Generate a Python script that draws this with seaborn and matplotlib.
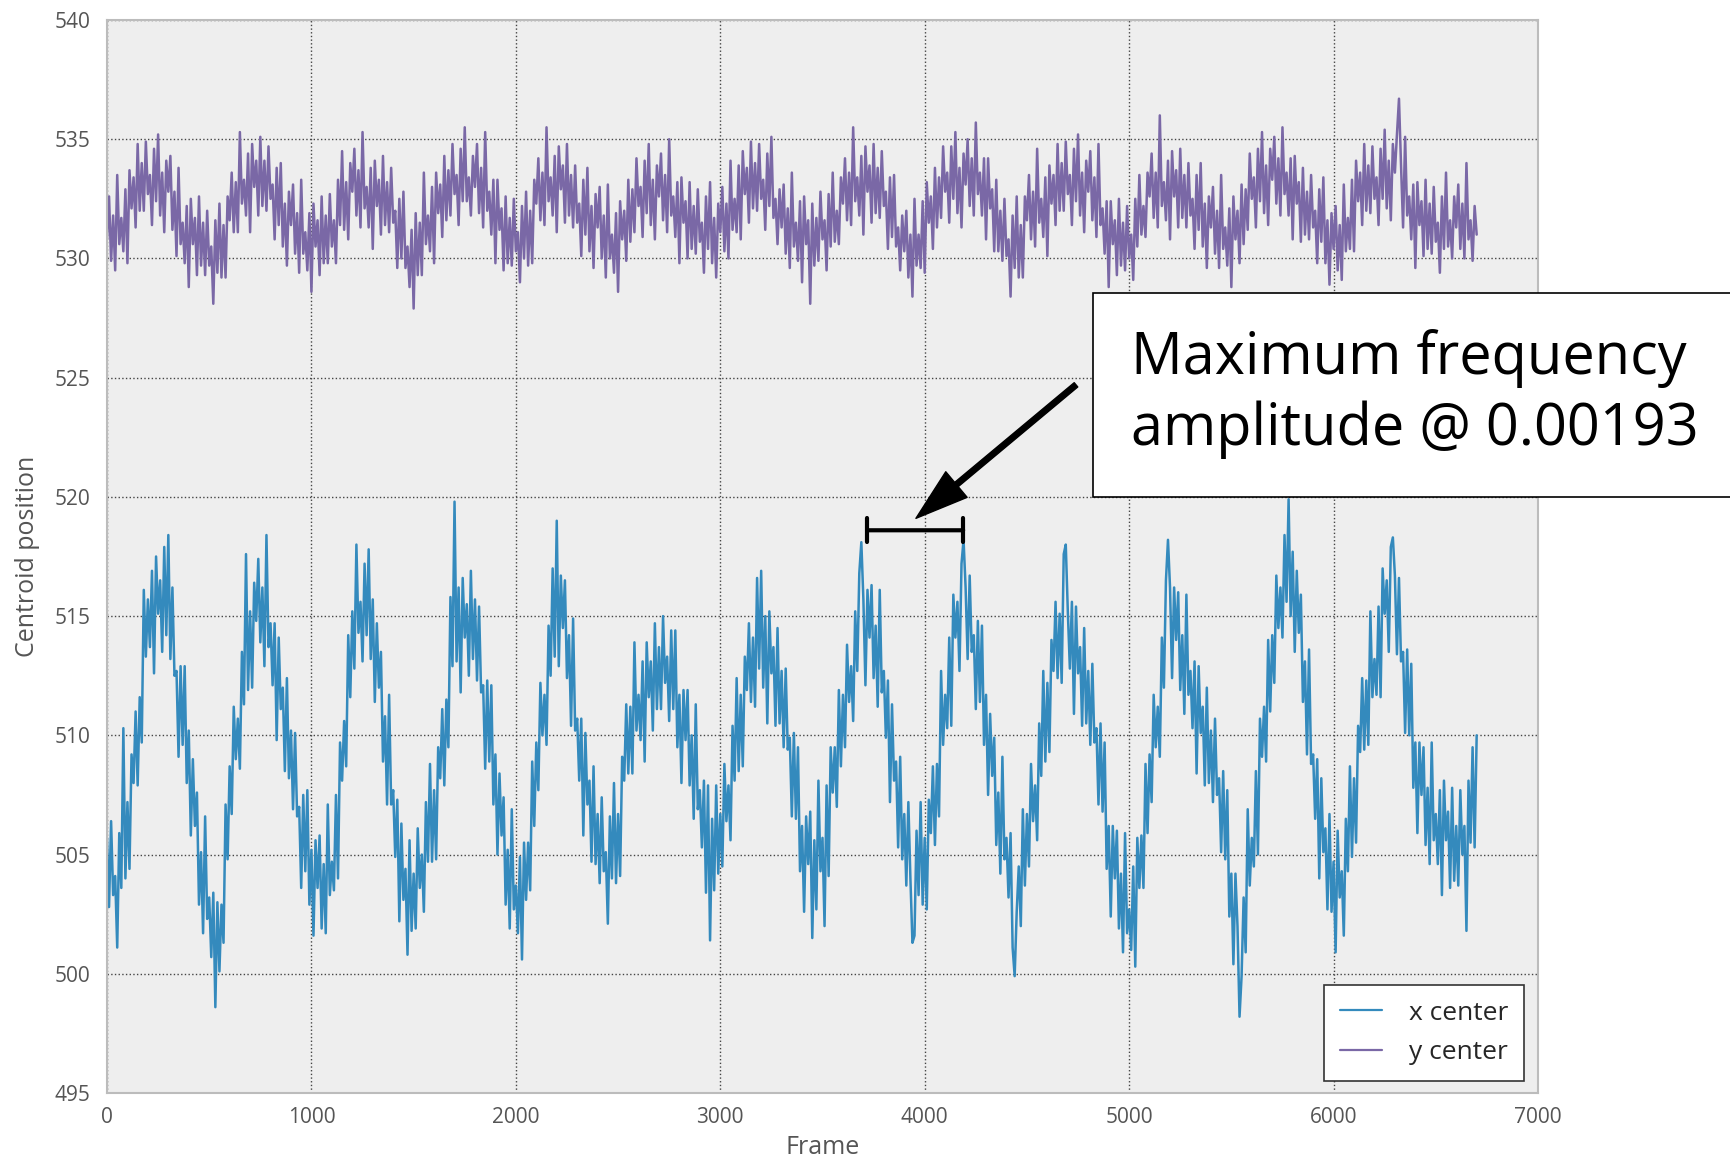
import numpy as np
import pandas as pd
import matplotlib
matplotlib.use("Agg")
import matplotlib.pyplot as plt
from matplotlib.patches import Rectangle
import seaborn as sns

# ---------------- data (one value every 10 frames) -------------
frame_step = 10
x_center = [
    505.7, 502.8, 506.4, 503.3, 504.1, 501.1, 505.9, 503.6, 510.3, 504.0,
    507.2, 504.4, 509.2, 508.0, 511.0, 507.9, 511.6, 509.7, 516.1, 513.3,
    515.7, 513.7, 516.9, 512.6, 517.5, 515.1, 516.5, 513.5, 517.9, 514.2,
    518.4, 513.2, 516.2, 512.5, 512.7, 509.1, 512.9, 509.6, 512.9, 508.0,
    510.2, 505.8, 509.0, 506.2, 507.6, 502.9, 505.1, 501.7, 506.6, 502.3,
    503.2, 500.7, 503.4, 498.6, 503.0, 500.1, 502.9, 501.3, 507.1, 504.8,
    508.7, 506.7, 511.2, 509.0, 510.7, 508.6, 513.5, 511.3, 517.6, 511.9,
    515.2, 512.0, 516.4, 514.8, 517.4, 513.9, 516.2, 512.9, 518.4, 513.7,
    514.7, 512.1, 514.7, 509.8, 514.1, 511.1, 512.0, 508.5, 512.4, 508.2,
    510.2, 506.9, 510.1, 506.6, 507.0, 503.6, 507.5, 504.3, 507.7, 502.9,
    505.2, 501.6, 505.6, 503.6, 505.8, 501.9, 504.6, 501.7, 507.1, 503.3,
    504.7, 503.5, 507.5, 504.0, 509.7, 508.1, 510.6, 508.7, 514.2, 511.6,
    515.2, 512.8, 518.0, 514.3, 515.6, 513.1, 517.2, 514.2, 517.8, 513.2,
    515.7, 511.4, 514.7, 512.0, 513.5, 508.9, 510.8, 507.1, 511.7, 507.1,
    507.7, 504.9, 507.3, 502.2, 506.3, 503.1, 504.4, 500.8, 505.6, 501.8,
    504.2, 501.9, 506.1, 503.6, 505.0, 502.6, 507.2, 504.7, 508.8, 504.7,
    507.7, 504.8, 509.5, 508.2, 511.1, 507.9, 511.5, 509.5, 515.8, 512.9,
    519.8, 513.1, 516.2, 511.8, 516.6, 514.1, 515.5, 512.5, 516.9, 513.2,
    515.7, 512.3, 515.4, 511.8, 512.1, 508.6, 512.3, 508.9, 512.1, 507.1,
    509.2, 505.0, 508.4, 505.8, 507.4, 502.9, 505.2, 501.9, 506.9, 502.7,
    503.7, 501.7, 504.9, 500.6, 505.5, 503.1, 505.5, 503.5, 508.9, 506.2,
    509.7, 507.7, 512.2, 510.0, 511.7, 509.6, 514.6, 512.5, 517.0, 513.3,
    519.0, 512.9, 516.7, 514.5, 516.5, 512.4, 514.2, 510.4, 514.9, 510.2,
    510.7, 508.1, 510.7, 505.8, 510.1, 507.1, 508.1, 504.7, 508.7, 504.6,
    506.7, 503.8, 507.4, 504.3, 505.1, 502.1, 506.6, 504.0, 508.0, 503.8,
    506.7, 504.1, 509.1, 508.1, 511.3, 508.4, 511.2, 508.4, 513.9, 510.2,
    511.7, 509.8, 513.1, 508.9, 513.9, 511.6, 513.1, 510.2, 514.7, 511.1,
    513.7, 511.1, 515.0, 512.2, 513.3, 510.6, 514.4, 511.1, 514.4, 509.5,
    511.7, 508.0, 511.9, 509.8, 511.9, 507.9, 510.0, 506.5, 511.3, 506.9,
    507.7, 505.3, 508.1, 503.4, 507.9, 501.4, 506.5, 503.5, 507.9, 504.2,
    506.7, 504.5, 508.8, 506.4, 507.9, 505.6, 510.4, 508.1, 512.4, 508.5,
    511.7, 508.7, 513.3, 511.9, 514.7, 511.4, 514.1, 511.2, 516.6, 512.8,
    516.9, 512.0, 515.0, 510.5, 515.2, 512.6, 513.7, 510.4, 514.5, 510.5,
    512.7, 509.5, 512.8, 509.4, 509.9, 506.6, 510.1, 506.5, 509.5, 504.3,
    506.2, 502.6, 506.6, 504.6, 506.8, 501.5, 505.6, 502.7, 508.1, 504.3,
    505.7, 502.0, 507.9, 504.1, 509.5, 507.6, 509.5, 507.0, 511.9, 508.7,
    511.7, 509.5, 513.8, 511.4, 512.9, 510.6, 515.2, 512.7, 516.8, 518.1,
    515.7, 512.1, 516.1, 514.1, 516.3, 512.4, 514.6, 511.2, 516.1, 511.8,
    512.7, 509.9, 512.3, 507.2, 511.3, 508.1, 508.9, 505.3, 509.1, 504.8,
    506.7, 503.7, 507.2, 504.0, 501.3, 501.6, 506.0, 503.3, 507.2, 502.9,
    505.7, 502.7, 507.3, 505.9, 508.7, 505.4, 508.8, 506.6, 512.7, 509.6,
    511.7, 510.3, 514.1, 510.4, 515.9, 514.1, 515.6, 512.7, 517.2, 518.2,
    516.2, 513.2, 516.7, 513.5, 514.2, 511.1, 514.8, 511.4, 514.6, 509.6,
    511.7, 507.5, 510.9, 508.3, 509.9, 505.4, 507.6, 504.2, 509.1, 504.8,
    505.7, 503.2, 505.9, 501.1, 499.9, 502.6, 504.5, 502.0, 506.9, 503.7,
    506.7, 504.5, 508.8, 506.4, 507.9, 505.6, 510.5, 508.3, 512.7, 508.9,
    512.2, 509.3, 514.0, 512.7, 515.6, 512.4, 515.1, 512.2, 517.6, 518.0,
    515.2, 512.8, 515.6, 510.9, 515.4, 512.6, 513.7, 510.4, 514.5, 510.5,
    512.7, 509.6, 513.0, 509.7, 510.3, 507.1, 510.5, 506.8, 509.7, 504.4,
    506.2, 502.4, 506.2, 504.0, 506.0, 501.9, 504.2, 500.9, 505.9, 501.7,
    502.7, 501.0, 504.5, 500.3, 505.7, 503.6, 505.8, 503.6, 508.8, 505.9,
    509.2, 507.2, 511.7, 509.5, 511.2, 509.1, 514.1, 512.0, 516.5, 518.2,
    516.2, 512.4, 516.2, 514.0, 516.0, 511.9, 514.2, 510.9, 515.9, 511.7,
    512.7, 510.3, 513.1, 508.4, 512.9, 510.1, 511.2, 507.9, 512.0, 508.0,
    510.2, 507.2, 510.7, 507.5, 508.2, 505.1, 508.5, 504.8, 507.7, 502.4,
    504.2, 500.4, 504.2, 502.0, 498.2, 499.9, 503.2, 500.9, 506.9, 503.7,
    505.7, 504.5, 508.5, 505.0, 510.7, 509.1, 511.2, 508.9, 514.0, 511.0,
    514.2, 512.2, 516.7, 514.5, 516.2, 514.1, 518.4, 515.6, 519.9, 515.0,
    517.7, 513.5, 516.9, 514.3, 515.9, 511.4, 513.1, 509.2, 513.6, 508.8,
    509.2, 506.5, 509.0, 504.0, 508.2, 505.1, 506.1, 502.7, 506.7, 502.6,
    504.7, 500.9, 506.0, 503.2, 504.3, 501.6, 506.5, 504.3, 508.7, 504.9,
    508.2, 505.5, 510.4, 509.3, 512.4, 509.4, 512.3, 509.6, 515.2, 511.6,
    513.2, 511.7, 515.4, 511.6, 517.0, 515.1, 516.5, 513.5, 517.9, 518.3,
    516.7, 513.4, 516.6, 513.1, 513.5, 510.1, 513.6, 510.0, 513.0, 507.8,
    509.7, 505.9, 509.7, 507.5, 509.5, 505.4, 507.8, 504.6, 509.7, 505.6,
    506.7, 504.6, 507.7, 503.3, 508.1, 505.6, 506.8, 503.6, 507.8, 503.9,
    506.2, 503.7, 507.7, 505.0, 506.2, 501.8, 508.1, 505.5, 509.5, 505.3,
    510.0,
]
y_center = [
    530.8, 532.6, 529.9, 531.8, 529.5, 533.5, 530.6, 531.7, 530.3, 532.9,
    529.8, 533.7, 532.1, 533.4, 531.3, 534.8, 532.0, 534.0, 532.0, 534.9,
    532.7, 533.5, 531.4, 534.6, 532.4, 535.2, 531.8, 533.6, 531.1, 534.1,
    532.8, 534.3, 531.2, 532.8, 530.1, 533.8, 530.6, 531.5, 529.8, 532.2,
    528.8, 532.5, 530.6, 531.7, 529.3, 532.6, 529.7, 531.5, 529.3, 532.0,
    529.7, 530.5, 528.1, 531.6, 529.4, 532.3, 529.2, 531.4, 529.2, 532.6,
    531.6, 533.6, 531.1, 533.2, 531.1, 535.3, 532.3, 533.3, 531.8, 534.4,
    531.1, 534.8, 533.0, 534.1, 531.8, 535.1, 532.2, 534.1, 532.0, 534.7,
    532.5, 533.1, 530.8, 533.8, 531.4, 534.0, 530.5, 532.3, 529.7, 532.8,
    531.4, 533.1, 530.2, 531.9, 529.4, 533.3, 530.2, 531.1, 529.5, 531.9,
    528.6, 532.3, 530.5, 531.6, 529.3, 532.6, 529.8, 531.8, 529.8, 532.7,
    530.5, 531.6, 529.8, 533.3, 531.4, 534.5, 531.2, 533.2, 530.8, 534.0,
    532.8, 534.6, 531.8, 533.7, 531.3, 535.3, 532.1, 533.0, 531.3, 533.8,
    530.4, 534.1, 532.2, 533.3, 531.0, 534.3, 531.4, 533.2, 531.1, 533.8,
    531.5, 532.0, 529.6, 532.5, 530.0, 532.8, 529.6, 530.5, 528.8, 531.2,
    527.9, 531.9, 529.3, 531.5, 529.3, 533.6, 530.6, 531.8, 530.3, 533.0,
    529.8, 533.6, 531.9, 533.1, 530.9, 534.3, 531.6, 533.7, 531.8, 534.8,
    532.7, 533.5, 531.4, 534.6, 532.4, 535.5, 532.4, 533.4, 531.8, 534.3,
    533.0, 534.8, 531.9, 533.8, 531.3, 535.3, 532.0, 532.8, 531.0, 533.3,
    529.8, 533.3, 531.2, 532.1, 529.5, 532.6, 529.8, 531.7, 529.7, 532.5,
    530.3, 531.1, 529.0, 532.2, 530.0, 532.8, 529.7, 532.0, 529.8, 533.3,
    532.3, 534.2, 531.6, 533.6, 531.4, 535.5, 532.4, 533.4, 531.8, 534.3,
    531.1, 534.7, 532.9, 533.9, 531.5, 534.8, 531.8, 533.5, 531.3, 533.9,
    531.5, 532.3, 530.1, 533.3, 531.0, 533.8, 530.3, 532.2, 529.6, 532.7,
    531.3, 533.0, 530.0, 531.8, 529.2, 533.1, 530.0, 531.0, 529.4, 531.9,
    528.6, 532.4, 530.8, 532.0, 529.9, 533.3, 530.7, 532.9, 531.1, 534.2,
    532.2, 533.0, 530.9, 534.1, 531.9, 534.8, 531.4, 533.3, 530.8, 533.9,
    532.6, 534.4, 531.6, 533.5, 531.1, 535.0, 531.8, 532.6, 530.9, 533.2,
    529.8, 533.4, 531.5, 532.4, 530.0, 533.2, 530.4, 532.2, 530.2, 532.9,
    530.7, 531.5, 529.4, 532.6, 530.4, 533.2, 529.8, 531.7, 529.2, 532.3,
    531.1, 533.0, 530.3, 532.3, 530.0, 534.1, 531.2, 532.5, 531.1, 533.9,
    530.8, 534.5, 532.7, 533.8, 531.5, 534.9, 532.1, 534.0, 532.0, 534.8,
    532.5, 533.3, 531.2, 534.4, 532.2, 535.1, 531.7, 532.5, 530.6, 532.9,
    531.3, 533.1, 530.2, 532.1, 529.6, 533.6, 530.5, 531.5, 529.9, 532.4,
    529.0, 532.6, 530.6, 531.6, 528.1, 532.3, 529.7, 531.7, 529.9, 532.8,
    530.8, 531.6, 529.5, 532.7, 530.5, 533.6, 530.7, 532.0, 530.6, 533.4,
    532.3, 534.2, 531.6, 533.6, 531.4, 535.5, 532.4, 533.4, 531.8, 534.3,
    531.0, 534.7, 532.8, 533.9, 531.5, 534.8, 531.9, 533.8, 531.7, 534.5,
    532.2, 532.8, 530.4, 533.4, 530.9, 533.5, 530.5, 531.3, 529.5, 531.8,
    530.3, 532.0, 529.2, 531.0, 528.4, 532.5, 529.7, 531.0, 529.6, 532.4,
    529.4, 533.2, 531.5, 532.6, 530.4, 533.8, 531.3, 533.4, 531.7, 534.7,
    532.8, 533.6, 531.5, 534.7, 532.5, 535.3, 531.9, 533.8, 531.3, 534.4,
    533.1, 535.0, 532.2, 534.2, 531.8, 535.7, 532.7, 533.6, 531.8, 534.2,
    530.8, 534.2, 532.1, 532.9, 530.3, 533.3, 530.3, 532.0, 529.9, 532.5,
    530.1, 530.8, 528.4, 531.8, 529.6, 532.6, 529.2, 531.4, 529.2, 532.6,
    531.6, 533.5, 530.8, 532.8, 530.5, 534.6, 531.5, 532.5, 530.9, 533.4,
    530.1, 533.9, 532.3, 533.5, 531.4, 534.8, 532.0, 534.0, 532.0, 534.9,
    532.7, 533.5, 531.4, 534.6, 532.4, 535.2, 531.8, 533.6, 531.1, 534.1,
    532.8, 534.5, 531.6, 533.4, 530.9, 534.8, 531.4, 532.1, 530.2, 532.4,
    528.8, 532.4, 530.6, 531.6, 529.3, 532.5, 529.7, 531.5, 529.5, 532.2,
    530.0, 531.0, 529.1, 532.5, 530.5, 533.5, 531.0, 532.2, 530.9, 533.6,
    532.6, 534.4, 531.7, 533.6, 531.3, 536.0, 532.2, 533.2, 531.6, 534.1,
    530.8, 534.5, 532.6, 533.7, 531.3, 534.6, 531.7, 533.5, 531.3, 534.0,
    531.8, 532.5, 530.4, 533.5, 531.2, 534.0, 530.5, 532.3, 529.6, 532.6,
    531.3, 533.0, 530.2, 532.0, 529.6, 533.5, 530.4, 531.3, 529.7, 532.1,
    528.8, 532.6, 530.8, 532.0, 529.8, 533.1, 530.6, 532.9, 531.2, 534.4,
    532.5, 533.4, 531.3, 534.6, 532.4, 535.3, 531.9, 533.9, 531.4, 534.6,
    533.3, 535.1, 532.3, 534.2, 531.8, 535.5, 532.7, 533.6, 531.8, 534.2,
    530.8, 534.3, 532.3, 533.2, 530.7, 533.8, 531.0, 532.8, 530.8, 533.5,
    531.3, 532.0, 529.8, 532.9, 530.7, 533.4, 529.8, 531.6, 528.9, 531.9,
    530.4, 532.2, 529.5, 531.4, 529.1, 533.1, 530.3, 531.7, 530.4, 533.3,
    530.3, 534.1, 532.4, 533.6, 531.4, 534.8, 532.0, 533.9, 531.9, 534.7,
    532.5, 533.4, 531.4, 534.6, 532.5, 535.4, 532.1, 534.1, 531.6, 534.8,
    533.6, 535.2, 536.7, 533.9, 531.3, 535.1, 531.8, 532.6, 530.8, 533.1,
    529.6, 533.2, 531.4, 532.4, 530.1, 533.3, 530.4, 532.3, 530.2, 533.0,
    530.7, 531.5, 529.4, 532.6, 530.4, 533.6, 530.5, 531.6, 530.0, 532.6,
    531.3, 533.1, 530.4, 532.3, 530.0, 534.0, 530.8, 531.6, 529.9, 532.2,
    531.0,
]
series_names = ["x center", "y center"]
series_colors = ["#348ABD", "#7A68A6"]
x_ticks = [0, 1000, 2000, 3000, 4000, 5000, 6000, 7000]
y_ticks = [495, 500, 505, 510, 515, 520, 525, 530, 535, 540]
annotation_text = "Maximum frequency\namplitude @ 0.00193"
arrow_tip = (3957, 519.1)
arrow_tail = (4740, 524.7)
bracket_start = 3720
bracket_end = 4188
bracket_level = 518.6

frames = np.arange(len(x_center)) * frame_step
df = pd.concat([
    pd.DataFrame({"Frame": frames, "value": x_center, "series": series_names[0]}),
    pd.DataFrame({"Frame": frames[:len(y_center)], "value": y_center, "series": series_names[1]}),
], ignore_index=True)

# ---------------- style -------------
sns.set_style("whitegrid", {
    "axes.facecolor": "#EEEEEE",
    "axes.edgecolor": "#BCBCBC",
    "grid.color": "#444444",
    "grid.linestyle": ":",
})
plt.rcParams["font.family"] = ["Open Sans", "DejaVu Sans"]

W, H = 1731, 1161
fig = plt.figure(figsize=(W / 100, H / 100), dpi=100)
ax = fig.add_axes([107 / W, 1 - 1093 / H, (1538 - 107) / W, (1093 - 20) / H])

sns.lineplot(data=df, x="Frame", y="value", hue="series",
             palette=dict(zip(series_names, series_colors)),
             estimator=None, linewidth=1.8, ax=ax)

ax.set_xlim(0, 7000)
ax.set_ylim(495, 540)
ax.set_xticks(x_ticks)
ax.set_yticks(y_ticks)
ax.grid(True, color="#444444", linestyle=":", linewidth=1.0)
for s in ax.spines.values():
    s.set_color("#BCBCBC")
    s.set_linewidth(1.5)
ax.tick_params(axis="both", length=0, labelsize=15, labelcolor="#555555")
ax.tick_params(axis="y", pad=12)
ax.tick_params(axis="x", pad=10)
ax.set_xlabel("Frame", fontsize=18, color="#555555", labelpad=5)
ax.set_ylabel("Centroid position", fontsize=18, color="#555555", labelpad=10)

leg = ax.legend(loc="lower right", bbox_to_anchor=(1524 / W, 80 / H),
                bbox_transform=fig.transFigure, borderaxespad=0,
                fontsize=19, frameon=True, fancybox=False,
                handlelength=1.6, handletextpad=1.0, labelspacing=0.55,
                borderpad=0.6)
leg.get_frame().set_edgecolor("#333333")
leg.get_frame().set_linewidth(1.2)
leg.get_frame().set_facecolor("white")
leg.get_frame().set_alpha(1)
for line in leg.get_lines():
    line.set_linewidth(1.6)

# arrow and bracket
ax.annotate("", xy=arrow_tip, xytext=arrow_tail,
            arrowprops=dict(facecolor="black", edgecolor="black", width=4,
                            headwidth=24, headlength=38, shrink=0))
ax.annotate("", xy=(bracket_start, bracket_level), xytext=(bracket_end, bracket_level),
            arrowprops=dict(arrowstyle="|-|,widthA=0.85,widthB=0.85", lw=3,
                            color="black", shrinkA=0, shrinkB=0))

# annotation box (runs off the right edge of the figure)
box = Rectangle((1093 / W, 1 - 497 / H), (1760 - 1093) / W, (497 - 292.5) / H,
                transform=fig.transFigure, facecolor="white", edgecolor="black",
                linewidth=1.2, zorder=5)
fig.patches.append(box)
fig.text(1131 / W, 1 - 394 / H, annotation_text, fontsize=41.5,
         ha="left", va="center", color="black", linespacing=1.28, zorder=6)

fig.savefig("out.png", dpi=100)
